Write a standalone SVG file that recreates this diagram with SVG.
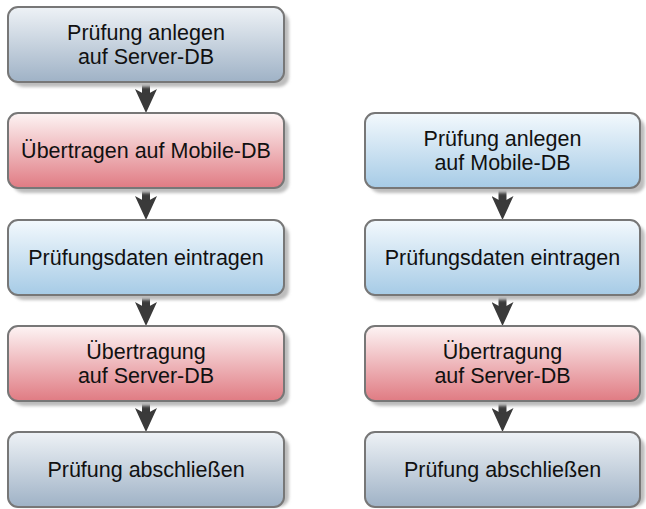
<svg xmlns="http://www.w3.org/2000/svg" width="646" height="509" viewBox="0 0 646 509">
<defs>
<linearGradient id="gGray" x1="0" y1="0" x2="0" y2="1"><stop offset="0" stop-color="#eef2f6"/><stop offset="1" stop-color="#9fb2c6"/></linearGradient>
<linearGradient id="gRed" x1="0" y1="0" x2="0" y2="1"><stop offset="0" stop-color="#fdf4f4"/><stop offset="1" stop-color="#e07b83"/></linearGradient>
<linearGradient id="gBlue" x1="0" y1="0" x2="0" y2="1"><stop offset="0" stop-color="#f3f9fd"/><stop offset="1" stop-color="#a6cbe6"/></linearGradient>
<filter id="blur" x="-10%" y="-10%" width="120%" height="130%"><feGaussianBlur stdDeviation="1.5"/></filter>
<marker id="ah" markerUnits="userSpaceOnUse" viewBox="0 0 24 22" markerWidth="24" markerHeight="22" refX="12" refY="11" orient="auto">
<path d="M0,0 L24,11 L0,22 L6,11 Z" fill="#3a3a3a"/>
</marker>
<style>
.sh{fill:#bdbdbd;filter:url(#blur)}
.bx{stroke:#777;stroke-width:2}
.gray{fill:url(#gGray)}
.red{fill:url(#gRed)}
.blue{fill:url(#gBlue)}
text{font-family:"Liberation Sans",Arial,Helvetica,sans-serif;font-size:21.5px;fill:#111;text-anchor:middle}
.cn{stroke:#3a3a3a;stroke-width:8;fill:none;marker-end:url(#ah)}
</style>
</defs>
<g id="connectors">
<path class="cn" d="M146,82 V101"/>
<path class="cn" d="M146,188 V208"/>
<path class="cn" d="M146,295 V314"/>
<path class="cn" d="M146,401 V420"/>
<path class="cn" d="M502.5,188 V208"/>
<path class="cn" d="M502.5,295 V314"/>
<path class="cn" d="M502.5,401 V420"/>
</g>
<g id="n1"><rect class="sh" x="13" y="12" width="276" height="75" rx="10"/><rect class="bx gray" x="8" y="7" width="276" height="75" rx="10"/><text x="146" y="39.5">Prüfung anlegen</text><text x="146" y="63.5">auf Server-DB</text></g>
<g id="n2"><rect class="sh" x="13" y="118" width="276" height="75" rx="10"/><rect class="bx red" x="8" y="113" width="276" height="75" rx="10"/><text x="146" y="158">Übertragen auf Mobile-DB</text></g>
<g id="n3"><rect class="sh" x="13" y="225" width="276" height="75" rx="10"/><rect class="bx blue" x="8" y="220" width="276" height="75" rx="10"/><text x="146" y="265">Prüfungsdaten eintragen</text></g>
<g id="n4"><rect class="sh" x="13" y="331" width="276" height="75" rx="10"/><rect class="bx red" x="8" y="326" width="276" height="75" rx="10"/><text x="146" y="359">Übertragung</text><text x="146" y="383">auf Server-DB</text></g>
<g id="n5"><rect class="sh" x="13" y="437" width="276" height="70" rx="10"/><rect class="bx gray" x="8" y="432" width="276" height="75" rx="10"/><text x="146" y="477">Prüfung abschließen</text></g>
<g id="m1"><rect class="sh" x="370" y="118" width="275" height="75" rx="10"/><rect class="bx blue" x="365" y="113" width="275" height="75" rx="10"/><text x="502.5" y="146">Prüfung anlegen</text><text x="502.5" y="170">auf Mobile-DB</text></g>
<g id="m2"><rect class="sh" x="370" y="225" width="275" height="75" rx="10"/><rect class="bx blue" x="365" y="220" width="275" height="75" rx="10"/><text x="502.5" y="265">Prüfungsdaten eintragen</text></g>
<g id="m3"><rect class="sh" x="370" y="331" width="275" height="75" rx="10"/><rect class="bx red" x="365" y="326" width="275" height="75" rx="10"/><text x="502.5" y="359">Übertragung</text><text x="502.5" y="383">auf Server-DB</text></g>
<g id="m4"><rect class="sh" x="370" y="437" width="275" height="70" rx="10"/><rect class="bx gray" x="365" y="432" width="275" height="75" rx="10"/><text x="502.5" y="477">Prüfung abschließen</text></g>
</svg>
